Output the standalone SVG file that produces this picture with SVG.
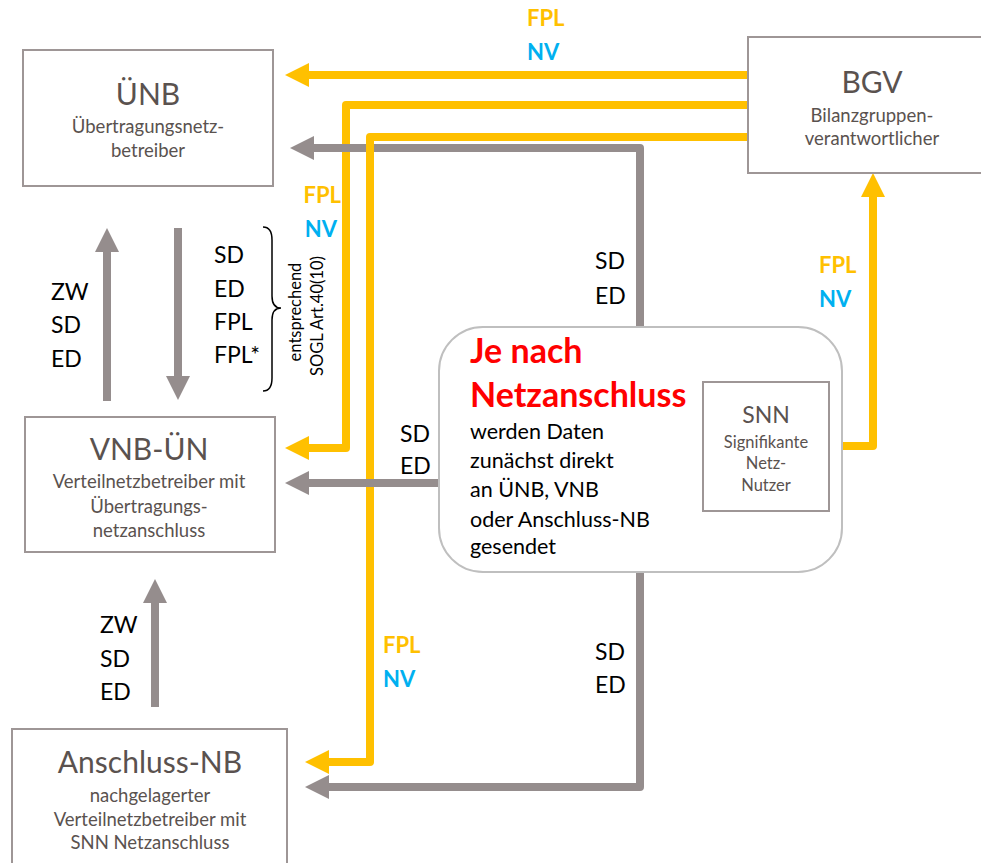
<svg xmlns="http://www.w3.org/2000/svg" width="981" height="863" viewBox="0 0 981 863">
<style>
.box{fill:#fff;stroke:#9e9696;stroke-width:2}
.t{font-family:Lato,"Liberation Sans",sans-serif;fill:#5a524f;text-anchor:middle}
.title{font-size:30px}
.sub{font-size:18.5px}
.lbl{font-family:Lato,"Liberation Sans",sans-serif;font-size:23px;fill:#000}
.fpl{font-family:Lato,"Liberation Sans",sans-serif;font-size:22px;font-weight:bold;fill:#ffc000}
.nv{font-family:Lato,"Liberation Sans",sans-serif;font-size:22px;font-weight:bold;fill:#00b0f0}
.y{fill:none;stroke:#ffc000;stroke-width:8;stroke-linejoin:round}
.g{fill:none;stroke:#958d8d;stroke-width:8;stroke-linejoin:round}
</style>
<defs>
<marker id="ay" viewBox="0 0 24 24" markerWidth="24" markerHeight="24" refX="12" refY="12" orient="auto" markerUnits="userSpaceOnUse"><path d="M0,0 L24,12 L0,24 z" fill="#ffc000"/></marker>
<marker id="ag" viewBox="0 0 24 24" markerWidth="24" markerHeight="24" refX="12" refY="12" orient="auto" markerUnits="userSpaceOnUse"><path d="M0,0 L24,12 L0,24 z" fill="#958d8d"/></marker>
</defs>

<g id="connectors">
<path class="y" d="M748,75 L297,75" marker-end="url(#ay)"/>
<path class="y" d="M748,105 L346,105 L346,448 L297,448" marker-end="url(#ay)"/>
<path class="g" d="M640,327 L640,148 L302,148" marker-end="url(#ag)"/>
<path class="y" d="M748,137 L370,137 L370,762 L317,762" marker-end="url(#ay)"/>
<path class="g" d="M439,483 L297,483" marker-end="url(#ag)"/>
<path class="g" d="M640,572 L640,787 L317,787" marker-end="url(#ag)"/>
<path class="y" d="M829,446 L873,446 L873,185" marker-end="url(#ay)"/>
<path class="g" d="M107,401 L107,240" marker-end="url(#ag)"/>
<path class="g" d="M178,228 L178,388" marker-end="url(#ag)"/>
<path class="g" d="M155,707 L155,591" marker-end="url(#ag)"/>
<path d="M263,227 Q272,227 272,240 L272,296 Q272,308 281,308 Q272,308 272,320 L272,378 Q272,391 263,391" fill="none" stroke="#000" stroke-width="1.5"/>
</g>

<g id="labels">
<text class="fpl" x="527" y="26">FPL</text>
<text class="nv" x="527" y="60">NV</text>
<text class="fpl" x="341" y="203" text-anchor="end">FPL</text>
<text class="nv" x="337" y="237" text-anchor="end">NV</text>
<text class="fpl" x="819" y="273">FPL</text>
<text class="nv" x="819" y="307">NV</text>
<text class="fpl" x="383" y="653">FPL</text>
<text class="nv" x="383" y="687">NV</text>
<text class="lbl" x="595" y="269">SD</text>
<text class="lbl" x="595" y="304">ED</text>
<text class="lbl" x="400" y="442">SD</text>
<text class="lbl" x="400" y="474">ED</text>
<text class="lbl" x="595" y="660">SD</text>
<text class="lbl" x="595" y="693">ED</text>
<text class="lbl" x="51" y="300">ZW</text>
<text class="lbl" x="51" y="333">SD</text>
<text class="lbl" x="51" y="367">ED</text>
<text class="lbl" x="214" y="263">SD</text>
<text class="lbl" x="214" y="297">ED</text>
<text class="lbl" x="214" y="330">FPL</text>
<text class="lbl" x="214" y="363">FPL*</text>
<text class="lbl" x="100" y="633">ZW</text>
<text class="lbl" x="100" y="667">SD</text>
<text class="lbl" x="100" y="700">ED</text>
<text font-family="Lato,'Liberation Sans',sans-serif" font-size="16.5" fill="#000" text-anchor="middle" transform="translate(301,312) rotate(-90)">entsprechend</text>
<text font-family="Lato,'Liberation Sans',sans-serif" font-size="16.5" fill="#000" text-anchor="middle" transform="translate(323,316) rotate(-90)">SOGL Art.40(10)</text>
</g>

<g id="UENB">
<rect class="box" x="23" y="50" width="250" height="136"/>
<text class="t title" x="148" y="105">ÜNB</text>
<text class="t sub" x="148" y="133">Übertragungsnetz-</text>
<text class="t sub" x="148" y="157">betreiber</text>
</g>

<g id="BGV">
<rect class="box" x="748" y="37" width="240" height="136"/>
<text class="t title" x="872" y="93">BGV</text>
<text class="t sub" x="872" y="122">Bilanzgruppen-</text>
<text class="t sub" x="872" y="145">verantwortlicher</text>
</g>

<g id="VNB-UEN">
<rect class="box" x="25" y="417" width="250" height="135"/>
<text class="t title" x="149" y="460">VNB-ÜN</text>
<text class="t sub" x="149" y="488">Verteilnetzbetreiber mit</text>
<text class="t sub" x="149" y="513">Übertragungs-</text>
<text class="t sub" x="149" y="537">netzanschluss</text>
</g>

<g id="Anschluss-NB">
<rect class="box" x="12" y="729" width="275" height="150"/>
<text class="t title" x="150" y="773" font-size="32">Anschluss-NB</text>
<text class="t sub" x="150" y="802">nachgelagerter</text>
<text class="t sub" x="150" y="826">Verteilnetzbetreiber mit</text>
<text class="t sub" x="150" y="849">SNN Netzanschluss</text>
</g>

<g id="JeNach">
<rect x="439" y="327" width="403" height="245" rx="44" ry="44" fill="#fff" stroke="#bfbfbf" stroke-width="2"/>
<text font-family="Lato,'Liberation Sans',sans-serif" font-size="34" font-weight="bold" fill="#ff0000" x="470" y="363">Je nach</text>
<text font-family="Lato,'Liberation Sans',sans-serif" font-size="34" font-weight="bold" fill="#ff0000" x="470" y="407">Netzanschluss</text>
<g font-family="Lato,'Liberation Sans',sans-serif" font-size="21.5" fill="#000">
<text x="470" y="439">werden Daten</text>
<text x="470" y="468">zunächst direkt</text>
<text x="470" y="497">an ÜNB, VNB</text>
<text x="470" y="527">oder Anschluss-NB</text>
<text x="470" y="554">gesendet</text>
</g>
</g>

<g id="SNN">
<rect class="box" x="703" y="382" width="126" height="129"/>
<text class="t" font-size="23" x="766" y="423">SNN</text>
<text class="t" font-size="16.5" x="766" y="448">Signifikante</text>
<text class="t" font-size="16.5" x="766" y="469">Netz-</text>
<text class="t" font-size="16.5" x="766" y="491">Nutzer</text>
</g>
</svg>
